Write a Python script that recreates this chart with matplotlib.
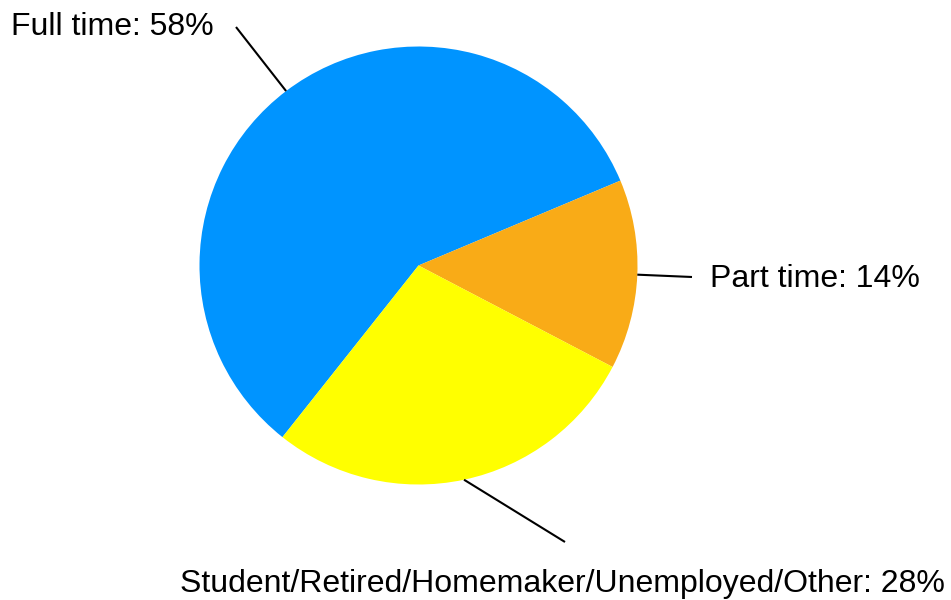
import numpy as np
import matplotlib
matplotlib.use("Agg")
import matplotlib.pyplot as plt

labels = ["Full time", "Part time", "Student/Retired/Homemaker/Unemployed/Other"]
values = [58, 14, 28]
colors = ["#0094FF", "#F9AB17", "#FFFF00"]

plt.rcParams['font.family'] = ['Liberation Sans', 'DejaVu Sans']

W, H = 951, 600
fig = plt.figure(figsize=(W / 100, H / 100), dpi=100)
ax = fig.add_axes([0, 0, 1, 1])
ax.set_xlim(0, W)
ax.set_ylim(0, H)
ax.set_aspect('equal')
ax.axis('off')

center = (418.5, 334.5)
radius = 219
startangle = 231.6

wedges, _ = ax.pie(values, colors=colors, startangle=startangle, counterclock=False,
                   center=center, radius=radius,
                   wedgeprops=dict(linewidth=0))
ax.set_xlim(0, W)
ax.set_ylim(0, H)

# label layout: (line end x, y), (text x, y), ha
layout = [
    ((236, 573), (11, 565), 'left'),
    ((692, 323), (710, 313), 'left'),
    ((565, 58), (562, 8), 'center'),
]

for w, lab, val, (lend, tpos, ha) in zip(wedges, labels, values, layout):
    mid = np.deg2rad((w.theta1 + w.theta2) / 2)
    sx = center[0] + radius * np.cos(mid)
    sy = center[1] + radius * np.sin(mid)
    ax.plot([sx, lend[0]], [sy, lend[1]], color='black', lw=1.5, solid_capstyle='butt')
    ax.text(tpos[0], tpos[1], f"{lab}: {val}%", ha=ha, va='baseline', fontsize=23, color='black')

fig.savefig("out.png", dpi=100)
